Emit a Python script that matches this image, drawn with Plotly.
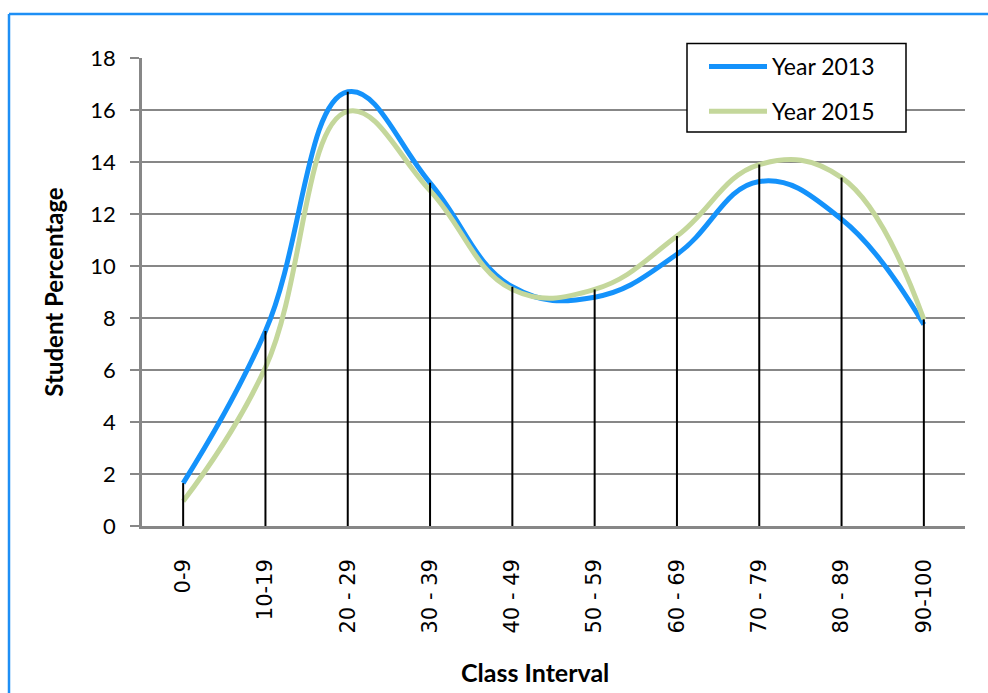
import plotly.graph_objects as go

# Class intervals and the share of students in each, per year
categories = ["0-9", "10-19", "20 - 29", "30 - 39", "40 - 49",
              "50 - 59", "60 - 69", "70 - 79", "80 - 89", "90-100"]
year_2013 = [1.65, 7.5, 16.7, 13.2, 9.2, 8.8, 10.45, 13.25, 11.8, 7.75]
year_2015 = [0.95, 6.1, 15.95, 12.9, 9.1, 9.1, 11.15, 13.9, 13.4, 7.95]
y_ticks = [0, 2, 4, 6, 8, 10, 12, 14, 16, 18]

W, H = 988, 693
ML, MR, MT, MB = 142, 23, 58, 167

GRID = "#878787"
BLUE = "#1492fb"
GREEN = "#c4d79b"
TEXT_FONT = "Lato"
SMOOTH = 1.2

fig = go.Figure()

fig.add_trace(go.Scatter(
    x=categories, y=year_2013, name="Year 2013", mode="lines",
    line=dict(color=BLUE, width=5, shape="spline", smoothing=SMOOTH),
    legendgroup="a", hoverinfo="x+y"))
fig.add_trace(go.Scatter(
    x=categories, y=year_2015, name="Year 2015", mode="lines",
    line=dict(color=GREEN, width=5, shape="spline", smoothing=SMOOTH),
    legendgroup="b", hoverinfo="x+y"))

# Drop lines from the higher of the two series down to the axis
drop_x, drop_y = [], []
for c, a, b in zip(categories, year_2013, year_2015):
    drop_x += [c, c, None]
    drop_y += [0, max(a, b), None]
fig.add_trace(go.Scatter(
    x=drop_x, y=drop_y, mode="lines", showlegend=False, hoverinfo="skip",
    line=dict(color="black", width=2)))

# Pixel -> paper coordinate helpers
pw = W - ML - MR
ph = H - MT - MB
def px_x(v):
    return (v - ML) / pw
def px_y(v):
    return (H - MB - v) / ph

# Blue frame along the top and left of the chart
fig.add_shape(type="line", xref="paper", yref="paper",
              x0=px_x(9), x1=px_x(9), y0=px_y(H + 5), y1=px_y(14),
              line=dict(color="#1e8ff5", width=2.5))
fig.add_shape(type="line", xref="paper", yref="paper",
              x0=px_x(9), x1=px_x(W + 5), y0=px_y(14), y1=px_y(14),
              line=dict(color="#1e8ff5", width=2.5))

# Legend frame with a white fill
fig.add_shape(type="rect", xref="paper", yref="paper", layer="above",
              x0=px_x(687), x1=px_x(906), y0=px_y(132), y1=px_y(43.5),
              fillcolor="white", line=dict(color="black", width=1.5))

# X axis title
fig.add_annotation(text="<b>Class Interval</b>", xref="paper", yref="paper",
                   x=px_x(535), y=px_y(672), xanchor="center", yanchor="middle",
                   showarrow=False,
                   font=dict(family=TEXT_FONT, size=25, color="black"))

fig.update_layout(
    width=W, height=H,
    margin=dict(l=ML, r=MR, t=MT, b=MB, pad=0),
    paper_bgcolor="white", plot_bgcolor="white",
    font=dict(family=TEXT_FONT, color="black"),
    showlegend=True,
    legend=dict(
        x=px_x(704), y=px_y(45), xanchor="left", yanchor="top",
        bgcolor="rgba(0,0,0,0)", borderwidth=0,
        font=dict(family=TEXT_FONT, size=23, color="black"),
        traceorder="grouped", tracegroupgap=12,
        itemwidth=58,
    ),
    xaxis=dict(
        type="category", range=[-0.5, 9.5],
        showgrid=False, zeroline=False,
        showline=True, linecolor=GRID, linewidth=2.5,
        ticks="", tickangle=-90,
        tickfont=dict(family="DejaVu Sans", size=21, color="black"),
        ticklabelstandoff=22,
        fixedrange=True,
    ),
    yaxis=dict(
        range=[0, 18], tickvals=y_ticks,
        showgrid=True, gridcolor=GRID, gridwidth=2,
        zeroline=False,
        showline=True, linecolor=GRID, linewidth=2.5,
        ticks="outside", ticklen=9, tickcolor=GRID, tickwidth=2,
        tickfont=dict(family=TEXT_FONT, size=22, color="black"),
        ticklabelstandoff=10,
        title=dict(text="<b>Student Percentage</b>", standoff=20,
                   font=dict(family=TEXT_FONT, size=24, color="black")),
        fixedrange=True,
    ),
)

fig.write_html("out.html")
